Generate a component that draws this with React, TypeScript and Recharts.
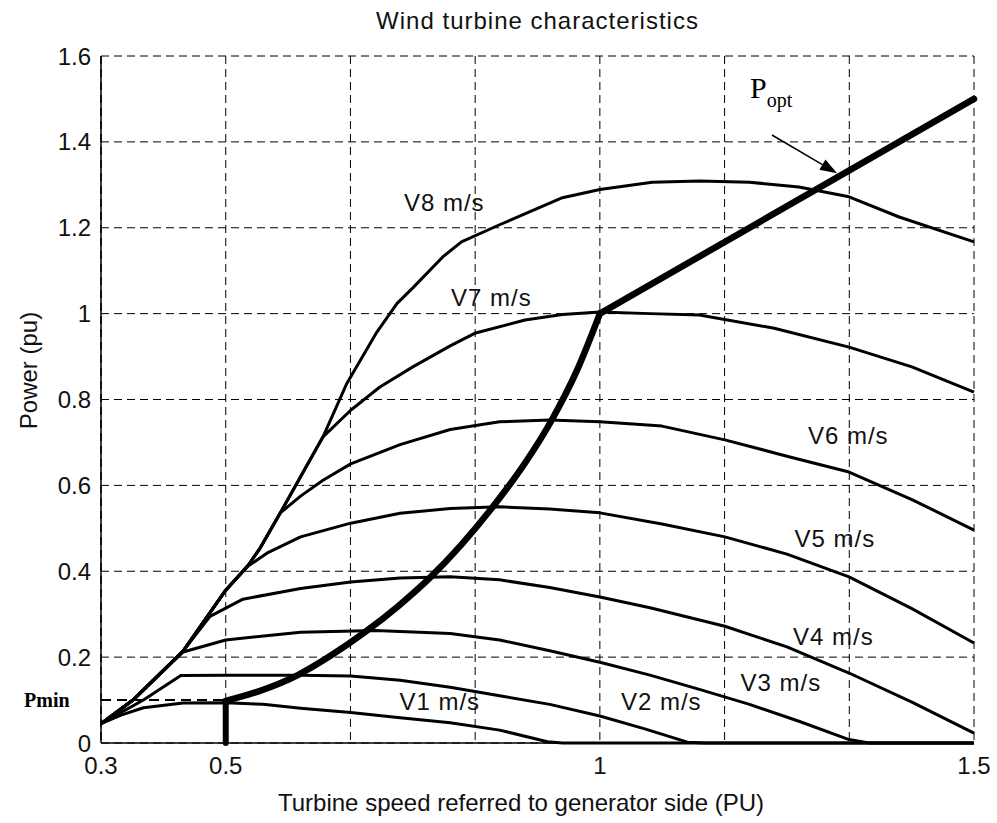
import React from "react";
import { LineChart, Line, XAxis, YAxis, CartesianGrid, ReferenceDot, ReferenceLine } from "recharts";

type Pt = [number, number];

// x: turbine speed (pu), y: power (pu)
const V1: Pt[] = [[0.3333, 0.045], [0.36, 0.065], [0.39, 0.082], [0.443, 0.093], [0.5, 0.094], [0.55, 0.09], [0.6, 0.081], [0.667, 0.071], [0.733, 0.059], [0.8, 0.047], [0.866, 0.03], [0.93, 0.003], [0.95, 0], [1.5, 0]];
const V2: Pt[] = [[0.3333, 0.045], [0.39, 0.1], [0.44, 0.157], [0.5, 0.158], [0.6, 0.158], [0.667, 0.156], [0.733, 0.146], [0.8, 0.13], [0.866, 0.11], [0.933, 0.09], [1.0, 0.063], [1.06, 0.033], [1.117, 0.002], [1.14, 0], [1.5, 0]];
const V3: Pt[] = [[0.3333, 0.045], [0.376, 0.1], [0.443, 0.212], [0.5, 0.24], [0.6, 0.258], [0.7, 0.262], [0.8, 0.255], [0.866, 0.24], [0.933, 0.215], [1.0, 0.188], [1.067, 0.158], [1.133, 0.125], [1.2, 0.09], [1.267, 0.05], [1.333, 0.008], [1.36, 0], [1.5, 0]];
const V4: Pt[] = [[0.3333, 0.045], [0.376, 0.1], [0.443, 0.214], [0.479, 0.295], [0.523, 0.335], [0.6, 0.36], [0.667, 0.375], [0.733, 0.384], [0.8, 0.387], [0.866, 0.38], [0.933, 0.362], [1.0, 0.34], [1.067, 0.315], [1.167, 0.272], [1.25, 0.224], [1.333, 0.163], [1.417, 0.095], [1.5, 0.023]];
const V5: Pt[] = [[0.3333, 0.045], [0.376, 0.1], [0.443, 0.214], [0.5, 0.356], [0.53, 0.412], [0.555, 0.442], [0.6, 0.48], [0.667, 0.512], [0.733, 0.535], [0.8, 0.546], [0.866, 0.55], [0.933, 0.545], [1.0, 0.536], [1.083, 0.51], [1.167, 0.48], [1.25, 0.44], [1.333, 0.387], [1.417, 0.313], [1.5, 0.233]];
const V6: Pt[] = [[0.3333, 0.045], [0.376, 0.1], [0.443, 0.214], [0.5, 0.356], [0.53, 0.414], [0.546, 0.454], [0.573, 0.536], [0.6, 0.575], [0.63, 0.612], [0.667, 0.65], [0.733, 0.695], [0.8, 0.73], [0.866, 0.748], [0.933, 0.752], [1.0, 0.748], [1.083, 0.738], [1.167, 0.706], [1.25, 0.668], [1.333, 0.631], [1.417, 0.567], [1.5, 0.496]];
const V7: Pt[] = [[0.3333, 0.045], [0.376, 0.1], [0.443, 0.214], [0.5, 0.356], [0.53, 0.414], [0.546, 0.454], [0.573, 0.536], [0.6, 0.62], [0.63, 0.713], [0.667, 0.775], [0.706, 0.829], [0.75, 0.876], [0.8, 0.925], [0.834, 0.955], [0.9, 0.985], [0.95, 0.998], [1.0, 1.004], [1.067, 1.0], [1.133, 0.997], [1.233, 0.966], [1.333, 0.922], [1.417, 0.876], [1.5, 0.817]];
const V8: Pt[] = [[0.3333, 0.045], [0.376, 0.1], [0.443, 0.214], [0.5, 0.356], [0.53, 0.414], [0.546, 0.454], [0.573, 0.536], [0.6, 0.62], [0.63, 0.713], [0.662, 0.838], [0.702, 0.957], [0.729, 1.024], [0.75, 1.06], [0.79, 1.132], [0.815, 1.167], [0.866, 1.207], [0.95, 1.27], [1.0, 1.289], [1.07, 1.306], [1.133, 1.309], [1.2, 1.306], [1.266, 1.295], [1.333, 1.272], [1.4, 1.225], [1.5, 1.167]];
// optimum power trajectory: vertical start at Pmin, curved part, straight part
const POPT_START: Pt[] = [[0.5, 0], [0.5, 0.098]];
const POPT_CURVE: Pt[] = [[0.5, 0.098], [0.55, 0.124], [0.595, 0.157], [0.64, 0.203], [0.686, 0.258], [0.73, 0.318], [0.773, 0.385], [0.815, 0.462], [0.857, 0.55], [0.9, 0.652], [0.935, 0.75], [0.97, 0.87], [1.0, 1.0]];
const POPT_LINE: Pt[] = [[1.0, 1.0], [1.5, 1.5]];
const PMIN: Pt[] = [[0.3333, 0.1], [0.5, 0.1]];

const CURVES = [V1, V2, V3, V4, V5, V6, V7, V8];
const CURVE_LABELS: { text: string; x: number; y: number }[] = [
  { text: "V1 m/s", x: 0.786, y: 0.096 },
  { text: "V2 m/s", x: 1.082, y: 0.096 },
  { text: "V3 m/s", x: 1.242, y: 0.141 },
  { text: "V4 m/s", x: 1.312, y: 0.249 },
  { text: "V5 m/s", x: 1.314, y: 0.477 },
  { text: "V6 m/s", x: 1.332, y: 0.717 },
  { text: "V7 m/s", x: 0.855, y: 1.0375 },
  { text: "V8 m/s", x: 0.792, y: 1.258 },
];

const X_TICKS = [1 / 3, 0.5, 2 / 3, 5 / 6, 1, 7 / 6, 4 / 3, 1.5];
const X_TICK_LABELS = ["0.3", "0.5", "", "", "1", "", "", "1.5"];
const Y_TICKS = [0, 0.2, 0.4, 0.6, 0.8, 1, 1.2, 1.4, 1.6];

const FONT = '"Liberation Sans", Arial, Helvetica, sans-serif';
const SERIF = '"Liberation Serif", "Times New Roman", serif';
const INK = "#111";

const toRows = (pts: Pt[]) => pts.map(([x, y]) => ({ x, y }));

function xTickFmt(v: number) {
  const i = X_TICKS.findIndex(t => Math.abs(t - v) < 1e-6);
  return i >= 0 ? X_TICK_LABELS[i] : "";
}

function Arrow(p: any) {
  const { x1, y1, x2, y2 } = p;
  const dx = x2 - x1, dy = y2 - y1;
  const len = Math.hypot(dx, dy) || 1;
  const ux = dx / len, uy = dy / len;
  const hl = 17, hw = 6;
  const bx = x2 - ux * hl, by = y2 - uy * hl;
  return (
    <g>
      <line x1={x1} y1={y1} x2={bx} y2={by} stroke="#000" strokeWidth={1.5} />
      <polygon points={`${x2},${y2} ${bx - uy * hw},${by + ux * hw} ${bx + uy * hw},${by - ux * hw}`} fill="#000" />
    </g>
  );
}

export default function App() {
  return (
    <div style={{ position: "absolute", left: 0, top: 0, width: 997, height: 823, background: "#fff" }}>
      <div style={{ position: "absolute", left: 101, width: 873, top: 7, textAlign: "center", fontFamily: FONT, fontSize: 24, letterSpacing: 1, color: INK, lineHeight: "28px" }}>
        Wind turbine characteristics
      </div>
      <LineChart width={997} height={823} margin={{ top: 56, right: 23, bottom: 50, left: 41 }}>
        <CartesianGrid stroke="#000" strokeWidth={1} strokeDasharray="8 5" />
        <XAxis type="number" dataKey="x" domain={[1 / 3, 1.5]} ticks={X_TICKS} tickFormatter={xTickFmt}
          height={30} tickLine={false} tickSize={10} tickMargin={4} interval={0}
          axisLine={{ stroke: "#000", strokeWidth: 1.5 }}
          tick={{ fontFamily: FONT, fontSize: 24, fill: INK }}
          label={(p: any) => {
            const vb = p.viewBox;
            return <text x={vb.x + vb.width / 2 - 16.5} y={vb.y + 59} textAnchor="middle" dominantBaseline="central"
              fontFamily={FONT} fontSize={24} fill={INK}>Turbine speed referred to generator side (PU)</text>;
          }} />
        <YAxis type="number" domain={[0, 1.6]} ticks={Y_TICKS} width={60} tickLine={false} tickSize={8} tickMargin={2}
          interval={0} tickFormatter={(v: number) => String(v)}
          axisLine={{ stroke: "#000", strokeWidth: 1.5 }}
          tick={{ fontFamily: FONT, fontSize: 24, fill: INK }}
          label={(p: any) => {
            const vb = p.viewBox;
            const cx = vb.x - 13, cy = vb.y + vb.height / 2 - 29;
            return <text x={cx} y={cy} transform={`rotate(-90 ${cx} ${cy})`} textAnchor="middle" dominantBaseline="central"
              fontFamily={FONT} fontSize={24} fill={INK}>Power (pu)</text>;
          }} />

        <Line data={toRows(PMIN)} dataKey="y" stroke="#000" strokeWidth={2} strokeDasharray="10 6" dot={false} activeDot={false} isAnimationActive={false} />
        {CURVES.map((c, i) => (
          <Line key={i} data={toRows(c)} dataKey="y" type="linear" stroke="#000" strokeWidth={3} dot={false} activeDot={false}
            strokeLinejoin="round" isAnimationActive={false} />
        ))}
        <Line data={toRows(POPT_START)} dataKey="y" type="linear" stroke="#000" strokeWidth={6} dot={false} activeDot={false}
          strokeLinecap="round" isAnimationActive={false} />
        <Line data={toRows(POPT_CURVE)} dataKey="y" type="monotone" stroke="#000" strokeWidth={6.5} dot={false} activeDot={false}
          strokeLinecap="round" strokeLinejoin="round" isAnimationActive={false} />
        <Line data={toRows(POPT_LINE)} dataKey="y" type="linear" stroke="#000" strokeWidth={6.5} dot={false} activeDot={false}
          strokeLinecap="round" isAnimationActive={false} />

        {CURVE_LABELS.map(l => (
          <ReferenceDot key={l.text} x={l.x} y={l.y} r={1} ifOverflow="visible"
            shape={(p: any) => (
              <text x={p.cx} y={p.cy} textAnchor="middle" dominantBaseline="central" fontFamily={FONT} fontSize={24}
                letterSpacing={1} fill={INK}>{l.text}</text>
            )} />
        ))}
        <ReferenceDot x={0.261} y={0.1} r={1} ifOverflow="visible"
          shape={(p: any) => (
            <text x={p.cx} y={p.cy} textAnchor="middle" dominantBaseline="central" fontFamily={SERIF} fontWeight="bold"
              fontSize={20} fill="#000">Pmin</text>
          )} />
        <ReferenceDot x={1.2006} y={1.502} r={1} ifOverflow="visible"
          shape={(p: any) => (
            <text x={p.cx} y={p.cy} fontFamily={SERIF} fontSize={30} fill="#000">
              P<tspan fontSize={20} dy={9}>opt</tspan>
            </text>
          )} />
        <ReferenceLine segment={[{ x: 1.23, y: 1.416 }, { x: 1.317, y: 1.327 }]} ifOverflow="visible" shape={Arrow} />
      </LineChart>
    </div>
  );
}
